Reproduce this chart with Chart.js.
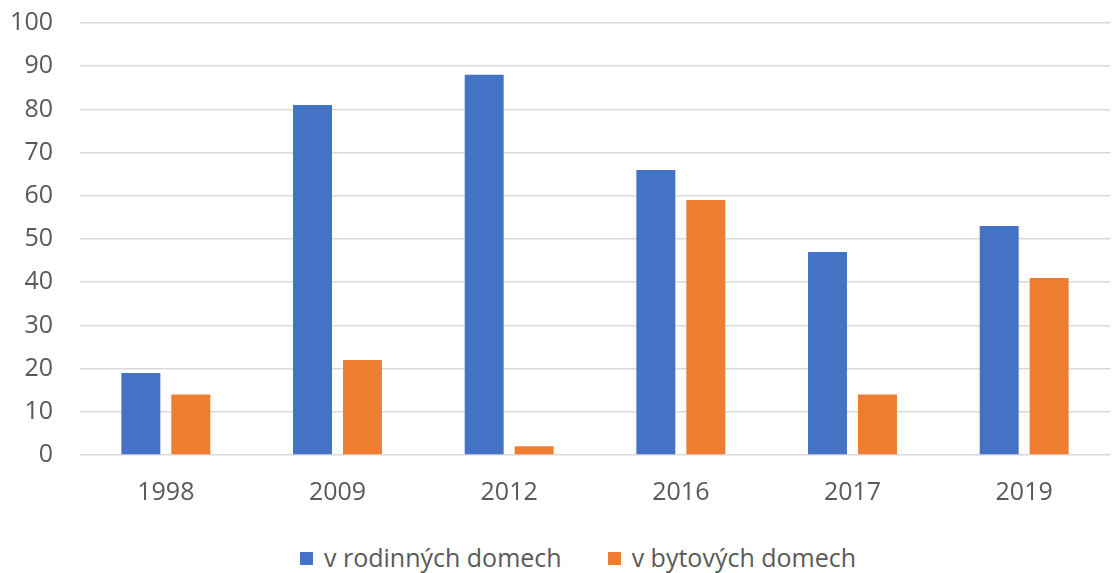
<!DOCTYPE html>
<html lang="cs">
<head>
  <meta charset="UTF-8">
  <title>Graf</title>
  <script src="https://cdn.jsdelivr.net/npm/chart.js"></script>
  <style>
    html, body { margin: 0; padding: 0; background: #fff; }
    #wrap { position: relative; width: 1114px; height: 573px; overflow: hidden; }
    #plot { position: absolute; left: 0; top: 0; width: 1114px; height: 534px; }
    #legenda {
      position: absolute; left: 42px; right: 0; top: 542px; height: 30px;
      display: flex; justify-content: center; align-items: center;
      font: 25px "Open Sans", "Noto Sans", sans-serif; color: #595959; line-height: 30px;
    }
    #legenda .pol { display: flex; align-items: center; margin: 0 23px; }
    #legenda .box { width: 13px; height: 13px; margin-right: 11px; margin-top: 2px; }
  </style>
</head>
<body>
  <div id="wrap">
    <div id="plot"><canvas id="graf"></canvas></div>
    <div id="legenda"></div>
  </div>
  <script>
    /* --- data --- */
    const roky = ['1998', '2009', '2012', '2016', '2017', '2019'];
    const rodinne = [19, 81, 88, 66, 47, 53];
    const bytove = [14, 22, 2, 59, 14, 41];
    const yTicks = [0, 10, 20, 30, 40, 50, 60, 70, 80, 90, 100];

    Chart.defaults.font.family = '"Open Sans", "Noto Sans", sans-serif';
    Chart.defaults.font.size = 25;
    Chart.defaults.color = '#595959';

    const graf = new Chart(document.getElementById('graf'), {
      type: 'bar',
      data: {
        labels: roky,
        datasets: [
          { label: 'v rodinných domech', data: rodinne, backgroundColor: '#4472c4',
            categoryPercentage: 0.582, barPercentage: 0.78 },
          { label: 'v bytových domech', data: bytove, backgroundColor: '#ed7d31',
            categoryPercentage: 0.582, barPercentage: 0.78 }
        ]
      },
      options: {
        responsive: true,
        maintainAspectRatio: false,
        animation: false,
        layout: { padding: { top: 23, right: 4, left: 0, bottom: 3 } },
        plugins: {
          legend: { display: false },
          tooltip: { enabled: false }
        },
        scales: {
          x: {
            grid: { display: false, drawTicks: false },
            border: { display: false },
            ticks: { padding: 23 }
          },
          y: {
            min: 0, max: 100,
            afterBuildTicks: ax => { ax.ticks = yTicks.map(v => ({ value: v })); },
            afterFit: ax => { ax.width = 80; },
            grid: { color: '#d9d9d9', lineWidth: 1.5, drawTicks: true,
                    tickLength: 27, tickColor: 'rgba(0,0,0,0)' },
            border: { display: false },
            ticks: { padding: 0 }
          }
        }
      }
    });

    /* --- legenda (HTML) --- */
    const leg = document.getElementById('legenda');
    graf.data.datasets.forEach(ds => {
      const pol = document.createElement('span');
      pol.className = 'pol';
      const box = document.createElement('span');
      box.className = 'box';
      box.style.background = ds.backgroundColor;
      pol.appendChild(box);
      pol.appendChild(document.createTextNode(ds.label));
      leg.appendChild(pol);
    });
  </script>
</body>
</html>
